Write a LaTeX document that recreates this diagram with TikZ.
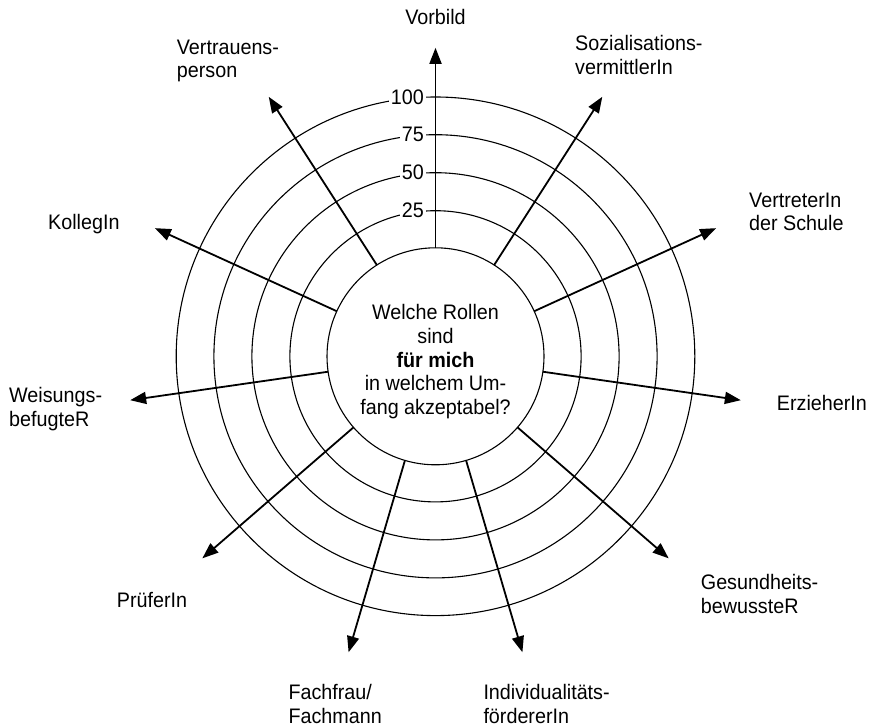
\documentclass[tikz,border=0pt]{standalone}
\usepackage{fontspec}
\setmainfont{Liberation Sans}[FakeStretch=0.94]
\usetikzlibrary{arrows.meta,calc}
\begin{document}
\begin{tikzpicture}[x=1pt,y=1pt,
 ring/.style={line width=1.1pt},
 spoke/.style={line width=1.8pt,-{Triangle[length=16pt,width=12pt]}},
 lab/.style={inner sep=0pt,font=\fontsize{21}{23.8}\selectfont,align=left},
 num/.style={inner sep=2pt,fill=white,font=\fontsize{21}{23.8}\selectfont}]
\useasboundingbox (0,0) rectangle (872,-727);
\coordinate (C) at (435.5,-356.3);
\foreach \r in {145.6,183.6,221.6,259.3} \draw[ring] (C) circle (\r);
\node[circle,draw,line width=1.1pt,minimum size=217pt,inner sep=0pt] (hub) at (C) {};
\foreach \i in {0,...,10} {
  \pgfmathsetmacro\a{90-\i*360/11}
  \coordinate (s\i) at ($(C)+(\a:108.5)$);
  \coordinate (e\i) at ($(C)+(\a:308.5)$);
  \draw[spoke] (s\i) -- (e\i);
}
\node[num,anchor=east] (n100) at (426,-97) {100};
\node[num,anchor=east] (n75) at (426,-134.7) {75};
\node[num,anchor=east] (n50) at (426,-172.7) {50};
\node[num,anchor=east] (n25) at (426,-210.7) {25};
\node[lab,align=center,anchor=north] (q) at (435.5,-304) {Welche Rollen\\sind\\\textbf{für mich}\\in welchem Um-\\fang akzeptabel?};
\node[lab,anchor=center] (l0) at (435.5,-17) {Vorbild};
\node[lab,anchor=north west] (l1) at (575,-35.5) {Sozialisations-\\vermittlerIn};
\node[lab,anchor=north west] (l2) at (749,-192.5) {VertreterIn\\der Schule};
\node[lab,anchor=west] (l3) at (776.7,-402.7) {ErzieherIn};
\node[lab,anchor=north west] (l4) at (700.7,-574) {Gesundheits-\\bewussteR};
\node[lab,anchor=north west] (l5) at (483.3,-684.5) {Individualitäts-\\fördererIn};
\node[lab,anchor=north west] (l6) at (288.3,-684.5) {Fachfrau/\\Fachmann};
\node[lab,anchor=base west] (l7) at (116.7,-607.5) {PrüferIn};
\node[lab,anchor=north west] (l8) at (9,-387.5) {Weisungs-\\befugteR};
\node[lab,anchor=base west] (l9) at (48,-229.2) {KollegIn};
\node[lab,anchor=north west] (l10) at (176.7,-39.5) {Vertrauens-\\person};
\end{tikzpicture}
\end{document}
